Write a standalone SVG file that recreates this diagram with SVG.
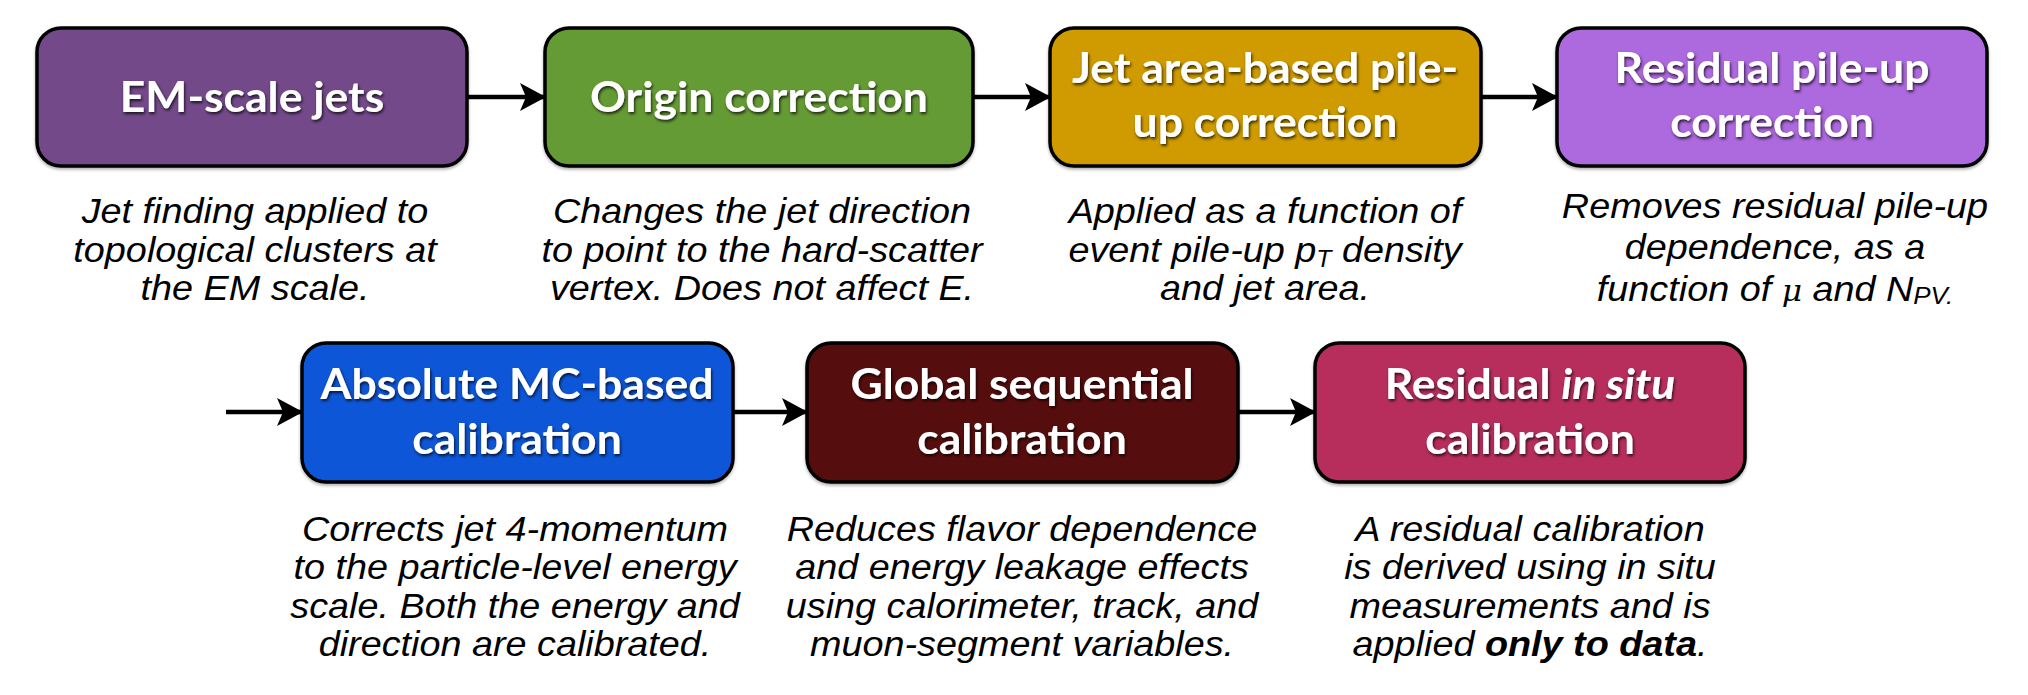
<svg xmlns="http://www.w3.org/2000/svg" width="2028" height="695" viewBox="0 0 2028 695">
<style>
.box{stroke:#000;stroke-width:3.5}
.title{font-family:Lato,"Open Sans",sans-serif;font-weight:bold;font-size:42px;fill:#fff;text-anchor:middle;filter:url(#ts)}
.desc{font-family:"Liberation Sans",Arial,sans-serif;font-style:italic;font-size:35px;fill:#000;text-anchor:middle}
.conn{stroke:#000;stroke-width:4.5;fill:none;marker-end:url(#ah)}
</style>
<defs>
<filter id="ts" x="-10%" y="-30%" width="120%" height="160%">
<feDropShadow dx="1" dy="2" stdDeviation="1.6" flood-color="#000" flood-opacity="0.75"/>
</filter>
<filter id="bs" x="-5%" y="-5%" width="110%" height="115%">
<feDropShadow dx="0" dy="2" stdDeviation="1.5" flood-color="#000" flood-opacity="0.3"/>
</filter>
<marker id="ah" markerUnits="userSpaceOnUse" viewBox="0 0 26 28" refX="25" refY="14" markerWidth="26" markerHeight="28" orient="auto">
<path d="M0,0 L26,14 L0,28 L6,14 Z" fill="#000"/>
</marker>
</defs>
<rect width="2028" height="695" fill="#fff"/>

<g id="connectors">
<line class="conn" x1="467" y1="97" x2="545" y2="97"/>
<line class="conn" x1="973" y1="97" x2="1050" y2="97"/>
<line class="conn" x1="1481" y1="97" x2="1557" y2="97"/>
<line class="conn" x1="226" y1="412" x2="302" y2="412"/>
<line class="conn" x1="733" y1="412" x2="807" y2="412"/>
<line class="conn" x1="1238" y1="412" x2="1315" y2="412"/>
</g>

<g id="em-scale-jets">
<rect class="box" x="37" y="28" width="430" height="138" rx="24" fill="#734a8a" filter="url(#bs)"/>
<g transform="translate(252,0) scale(1.06,1)">
<text class="title" x="0" y="112">EM-scale jets</text>
</g>
<g transform="translate(255,0) scale(1.08,1)">
<text class="desc" x="0" y="223">Jet finding applied to</text>
<text class="desc" x="0" y="262">topological clusters at</text>
<text class="desc" x="0" y="300">the EM scale.</text>
</g>
</g>

<g id="origin-correction">
<rect class="box" x="545" y="28" width="428" height="138" rx="24" fill="#659b36" filter="url(#bs)"/>
<g transform="translate(759,0) scale(1.06,1)">
<text class="title" x="0" y="112">Origin correction</text>
</g>
<g transform="translate(762,0) scale(1.08,1)">
<text class="desc" x="0" y="223">Changes the jet direction</text>
<text class="desc" x="0" y="262">to point to the hard-scatter</text>
<text class="desc" x="0" y="300">vertex. Does not affect E.</text>
</g>
</g>

<g id="jet-area-pileup">
<rect class="box" x="1050" y="28" width="431" height="138" rx="24" fill="#cf9b00" filter="url(#bs)"/>
<g transform="translate(1265,0) scale(1.06,1)">
<text class="title" x="0" y="83">Jet area-based pile-</text>
<text class="title" x="0" y="137">up correction</text>
</g>
<g transform="translate(1265,0) scale(1.08,1)">
<text class="desc" x="0" y="223">Applied as a function of</text>
<text class="desc" x="0" y="262">event pile-up p<tspan font-size="23" dy="5">T</tspan><tspan dy="-5"> density</tspan></text>
<text class="desc" x="0" y="300">and jet area.</text>
</g>
</g>

<g id="residual-pileup">
<rect class="box" x="1557" y="28" width="430" height="138" rx="24" fill="#ad69de" filter="url(#bs)"/>
<g transform="translate(1772,0) scale(1.06,1)">
<text class="title" x="0" y="83">Residual pile-up</text>
<text class="title" x="0" y="137">correction</text>
</g>
<g transform="translate(1775,0) scale(1.08,1)">
<text class="desc" x="0" y="218">Removes residual pile-up</text>
<text class="desc" x="0" y="259">dependence, as a</text>
<text class="desc" x="0" y="301">function of <tspan font-family="'DejaVu Serif',serif" font-size="29">μ</tspan> and N<tspan font-size="24" dy="3">PV.</tspan></text>
</g>
</g>

<g id="absolute-mc">
<rect class="box" x="302" y="343" width="431" height="139" rx="24" fill="#0a57d8" filter="url(#bs)"/>
<g transform="translate(517,0) scale(1.06,1)">
<text class="title" x="0" y="399">Absolute MC-based</text>
<text class="title" x="0" y="454">calibration</text>
</g>
<g transform="translate(515,0) scale(1.08,1)">
<text class="desc" x="0" y="541">Corrects jet 4-momentum</text>
<text class="desc" x="0" y="579">to the particle-level energy</text>
<text class="desc" x="0" y="618">scale. Both the energy and</text>
<text class="desc" x="0" y="656">direction are calibrated.</text>
</g>
</g>

<g id="global-sequential">
<rect class="box" x="807" y="343" width="431" height="139" rx="24" fill="#570a0a" filter="url(#bs)"/>
<g transform="translate(1022,0) scale(1.06,1)">
<text class="title" x="0" y="399">Global sequential</text>
<text class="title" x="0" y="454">calibration</text>
</g>
<g transform="translate(1022,0) scale(1.08,1)">
<text class="desc" x="0" y="541">Reduces flavor dependence</text>
<text class="desc" x="0" y="579">and energy leakage effects</text>
<text class="desc" x="0" y="618">using calorimeter, track, and</text>
<text class="desc" x="0" y="656">muon-segment variables.</text>
</g>
</g>

<g id="residual-in-situ">
<rect class="box" x="1315" y="343" width="430" height="139" rx="24" fill="#b72e5d" filter="url(#bs)"/>
<g transform="translate(1530,0) scale(1.06,1)">
<text class="title" x="0" y="399">Residual <tspan font-style="italic">in situ</tspan></text>
<text class="title" x="0" y="454">calibration</text>
</g>
<g transform="translate(1530,0) scale(1.08,1)">
<text class="desc" x="0" y="541">A residual calibration</text>
<text class="desc" x="0" y="579">is derived using in situ</text>
<text class="desc" x="0" y="618">measurements and is</text>
<text class="desc" x="0" y="656">applied <tspan font-weight="bold">only to data</tspan>.</text>
</g>
</g>
</svg>
